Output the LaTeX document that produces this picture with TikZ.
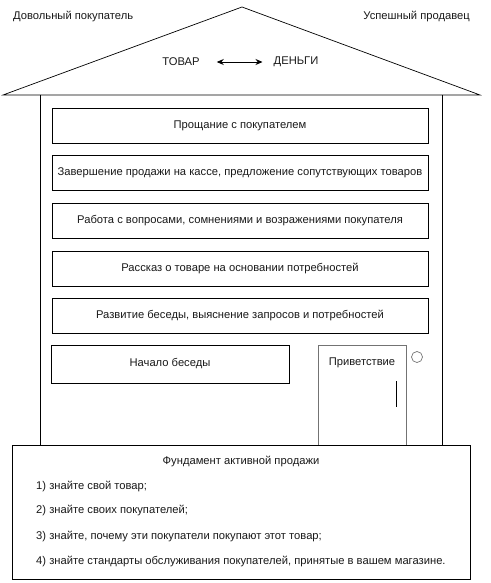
\documentclass[tikz,border=0pt]{standalone}
\usepackage{fontspec}
\setmainfont{Liberation Sans}
\usetikzlibrary{arrows.meta}
\begin{document}
\begin{tikzpicture}[x=1pt,y=-1pt,
  txt/.style={font=\fontsize{11.2}{13}\selectfont, inner sep=0pt, text=black!90},
  stagebox/.style={draw, line width=0.9pt, minimum width=376pt, minimum height=35pt, inner sep=0pt, font=\fontsize{11.2}{13}\selectfont, text=black!90},
  wall/.style={line width=0.9pt},
  roofline/.style={line width=0.7pt},
  grayline/.style={draw=black!55, line width=0.9pt}]
\useasboundingbox (0,0) rectangle (490,583);
% roof
\coordinate (apex) at (242,7);
\coordinate (rl) at (3,95);
\coordinate (rr) at (480,95);
\draw[roofline] (rl) -- (apex) -- (rr) -- cycle;
% walls
\coordinate (wlt) at (40,95);
\coordinate (wlb) at (40,445);
\coordinate (wrt) at (442,95);
\coordinate (wrb) at (442,445);
\draw[wall] (wlt) -- (wlb);
\draw[wall] (wrt) -- (wrb);
% roof labels
\node[txt, anchor=west] (buyer) at (13,17) {Довольный покупатель};
\node[txt, anchor=east] (seller) at (470,17) {Успешный продавец};
\node[txt] (goods) at (181,62) {ТОВАР};
\node[txt] (money) at (296,62) {ДЕНЬГИ};
\draw[line width=0.9pt, {Stealth[length=7pt,width=6pt]}-{Stealth[length=7pt,width=6pt]}] ([xshift=17pt]goods.east) -- ([xshift=-11pt]money.west);
% stage boxes
\node[stagebox] (s1) at (240,125.5) {Прощание с покупателем};
\node[stagebox] (s2) at (240,172.5) {Завершение продажи на кассе, предложение сопутствующих товаров};
\node[stagebox] (s3) at (240,220.5) {Работа с вопросами, сомнениями и возражениями покупателя};
\node[stagebox] (s4) at (240,268.5) {Рассказ о товаре на основании потребностей};
\node[stagebox] (s5) at (240,315.5) {Развитие беседы, выяснение запросов и потребностей};
\node[stagebox, minimum width=238pt, minimum height=38pt] (s6) at (170,364) {Начало беседы};
% door
\node[grayline, minimum width=88pt, minimum height=100pt, inner sep=0pt] (door) at (362,395) {};
\node[txt] (greet) at (362,363) {Приветствие};
\coordinate (h1) at (396,381);
\coordinate (h2) at (396,407);
\draw[line width=0.9pt] (h1) -- (h2);
\node[grayline, circle, minimum size=11pt, inner sep=0pt, line width=0.7pt] (bell) at (417,357) {};
% foundation
\node[draw, line width=0.9pt, fill=white, minimum width=458pt, minimum height=134pt, inner sep=0pt] (found) at (241,512) {};
\node[txt] (ftitle) at (241,461) {Фундамент активной продажи};
\node[txt, anchor=west] (f1) at (36,486) {1) знайте свой товар;};
\node[txt, anchor=west] (f2) at (36,511) {2) знайте своих покупателей;};
\node[txt, anchor=west] (f3) at (36,536) {3) знайте, почему эти покупатели покупают этот товар;};
\node[txt, anchor=west] (f4) at (36,561) {4) знайте стандарты обслуживания покупателей, принятые в вашем магазине.};
\end{tikzpicture}
\end{document}
